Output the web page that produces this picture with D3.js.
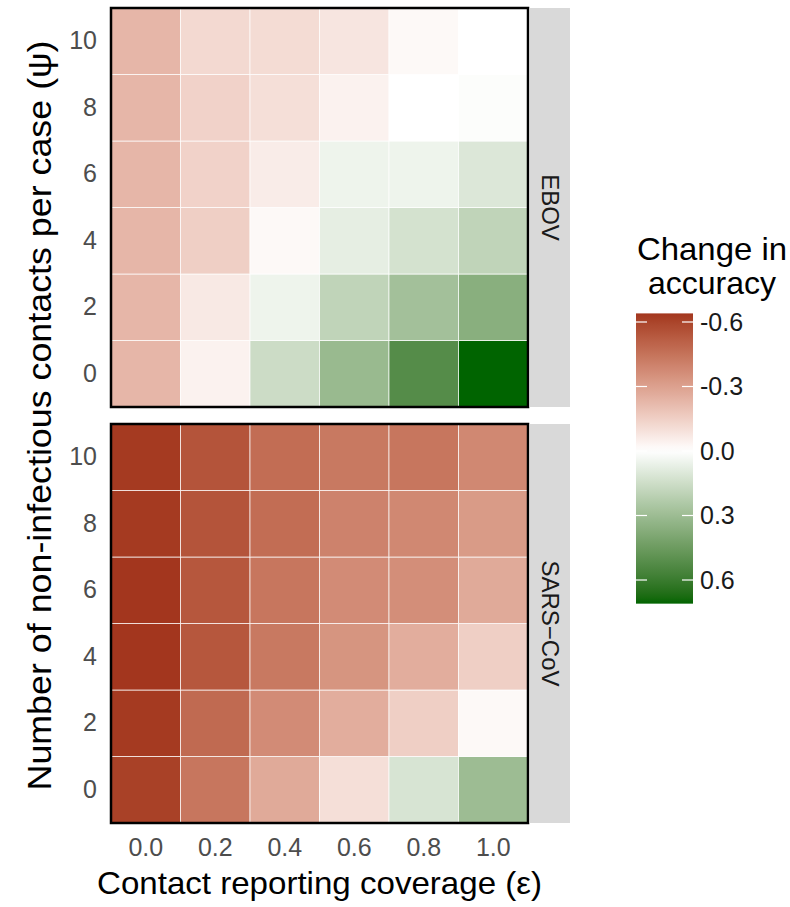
<!DOCTYPE html>
<html>
<head>
<meta charset="utf-8">
<script src="https://cdn.jsdelivr.net/npm/d3@7"></script>
<style>
  body { margin: 0; background: #fff; }
  svg text { font-family: "Liberation Sans", Arial, sans-serif; }
</style>
</head>
<body>
<div id="chart"></div>
<script>
// contact reporting coverage (epsilon) and non-infectious contacts (psi)
const coverage = [0, 0.2, 0.4, 0.6, 0.8, 1.0];
const contacts = [0, 2, 4, 6, 8, 10];
const pathogens = ['EBOV', 'SARS\u2212CoV'];

// change in accuracy, one row per psi (0..10), one column per epsilon
const ebov = [
  [-0.23, -0.04, 0.155, 0.31, 0.52, 0.71],
  [-0.23, -0.07, 0.05, 0.19, 0.28, 0.36],
  [-0.23, -0.15, -0.02, 0.075, 0.13, 0.19],
  [-0.23, -0.14, -0.06, 0.05, 0.05, 0.105],
  [-0.23, -0.14, -0.10, -0.04, 0.0, 0.01],
  [-0.23, -0.12, -0.11, -0.08, -0.02, 0.0]
];
const sars = [
  [-0.61, -0.44, -0.27, -0.10, 0.12, 0.30],
  [-0.63, -0.48, -0.37, -0.26, -0.15, -0.02],
  [-0.64, -0.54, -0.43, -0.34, -0.26, -0.15],
  [-0.64, -0.54, -0.44, -0.37, -0.36, -0.27],
  [-0.63, -0.55, -0.47, -0.40, -0.38, -0.32],
  [-0.63, -0.55, -0.47, -0.43, -0.44, -0.38]
];
const legendTicks = [-0.6, -0.3, 0.0, 0.3, 0.6];

const W = 790, H = 907;
const panelLeft = 111, panelRight = 528, stripWidth = 42;
const panelTops = [8, 424], panelHeight = 399;

const svg = d3.select('#chart').append('svg')
  .attr('width', W).attr('height', H);

const cells = [];
[ebov, sars].forEach(function(grid, p) {
  grid.forEach(function(row, i) {
    row.forEach(function(v, j) {
      cells.push({ panel: p, psi: contacts[i], eps: coverage[j], value: v });
    });
  });
});

const ext = d3.extent(cells, function(d) { return d.value; });
const lim = d3.max(ext, Math.abs);

const color = d3.scaleLinear()
  .domain([-lim, 0, lim])
  .range(['#951a06', '#ffffff', '#006400'])
  .interpolate(d3.interpolateLab);

const x = d3.scaleBand().domain(coverage).range([panelLeft, panelRight]);

pathogens.forEach(function(name, p) {
  const top = panelTops[p];
  const y = d3.scaleBand().domain(contacts.slice().reverse()).range([top, top + panelHeight]);

  svg.append('g').selectAll('rect')
    .data(cells.filter(function(d) { return d.panel === p; }))
    .enter().append('rect')
      .attr('x', function(d) { return x(d.eps); })
      .attr('y', function(d) { return y(d.psi); })
      .attr('width', x.bandwidth())
      .attr('height', y.bandwidth())
      .attr('fill', function(d) { return color(d.value); })
      .attr('stroke', '#ffffff')
      .attr('stroke-opacity', 0.7)
      .attr('stroke-width', 1);

  // panel border
  svg.append('rect')
    .attr('x', panelLeft).attr('y', top)
    .attr('width', panelRight - panelLeft).attr('height', panelHeight)
    .attr('fill', 'none').attr('stroke', '#000').attr('stroke-width', 2.5);

  // facet strip
  svg.append('rect')
    .attr('x', panelRight + 1.5).attr('y', top)
    .attr('width', stripWidth - 1.5).attr('height', panelHeight)
    .attr('fill', '#d9d9d9');
  svg.append('text')
    .attr('transform', 'translate(' + (panelRight + stripWidth / 2 + 1) + ',' + (top + panelHeight / 2) + ') rotate(90)')
    .attr('text-anchor', 'middle')
    .attr('dy', '0.35em')
    .attr('font-size', 24)
    .attr('fill', '#1a1a1a')
    .text(name);

  const yAxis = svg.append('g')
    .attr('transform', 'translate(' + panelLeft + ',0)')
    .call(d3.axisLeft(y).tickSize(0).tickPadding(14));
  yAxis.select('.domain').remove();
  yAxis.selectAll('text')
    .attr('font-size', 25)
    .attr('fill', '#4d4d4d')
    .style('font-family', '"Liberation Sans", Arial, sans-serif');
});

const xAxis = svg.append('g')
  .attr('transform', 'translate(0,' + (panelTops[1] + panelHeight) + ')')
  .call(d3.axisBottom(x).tickSize(0).tickPadding(15).tickFormat(d3.format('.1f')));
xAxis.select('.domain').remove();
xAxis.selectAll('text')
  .attr('font-size', 25)
  .attr('fill', '#4d4d4d')
  .style('font-family', '"Liberation Sans", Arial, sans-serif');

// axis titles
svg.append('text')
  .attr('x', (panelLeft + panelRight) / 2).attr('y', 894)
  .attr('text-anchor', 'middle')
  .attr('font-size', 32)
  .attr('textLength', 445).attr('lengthAdjust', 'spacingAndGlyphs')
  .text('Contact reporting coverage (\u03b5)');

svg.append('text')
  .attr('transform', 'translate(51,' + ((panelTops[0] + panelTops[1] + panelHeight) / 2) + ') rotate(-90)')
  .attr('text-anchor', 'middle')
  .attr('font-size', 34)
  .attr('textLength', 750).attr('lengthAdjust', 'spacingAndGlyphs')
  .text('Number of non-infectious contacts per case (\u03c8)');

// colourbar legend
const barX = 636, barW = 57;
const ly = d3.scaleLinear().domain([-0.6, 0.6]).range([322, 580]);

const grad = svg.append('defs').append('linearGradient')
  .attr('id', 'legend-grad')
  .attr('x1', 0).attr('y1', 0).attr('x2', 0).attr('y2', 1);
d3.range(0, 1.0001, 0.02).forEach(function(t) {
  const v = ext[0] + t * (ext[1] - ext[0]);
  grad.append('stop').attr('offset', t).attr('stop-color', color(v));
});

svg.append('rect')
  .attr('x', barX).attr('y', ly(ext[0]))
  .attr('width', barW).attr('height', ly(ext[1]) - ly(ext[0]))
  .attr('fill', 'url(#legend-grad)');

const lg = svg.append('g');
legendTicks.forEach(function(t) {
  lg.append('line')
    .attr('x1', barX).attr('x2', barX + 11)
    .attr('y1', ly(t)).attr('y2', ly(t))
    .attr('stroke', '#fff').attr('stroke-width', 1.2);
  lg.append('line')
    .attr('x1', barX + barW - 11).attr('x2', barX + barW)
    .attr('y1', ly(t)).attr('y2', ly(t))
    .attr('stroke', '#fff').attr('stroke-width', 1.2);
  lg.append('text')
    .attr('x', barX + barW + 7).attr('y', ly(t))
    .attr('dy', '0.35em')
    .attr('font-size', 25)
    .attr('fill', '#1a1a1a')
    .text(d3.format('.1f')(t).replace('\u2212', '-'));
});

svg.append('text')
  .attr('x', 712).attr('y', 260)
  .attr('text-anchor', 'middle')
  .attr('font-size', 32)
  .attr('textLength', 150).attr('lengthAdjust', 'spacingAndGlyphs')
  .text('Change in');
svg.append('text')
  .attr('x', 712).attr('y', 294)
  .attr('text-anchor', 'middle')
  .attr('font-size', 32)
  .attr('textLength', 128).attr('lengthAdjust', 'spacingAndGlyphs')
  .text('accuracy');
</script>
</body>
</html>
